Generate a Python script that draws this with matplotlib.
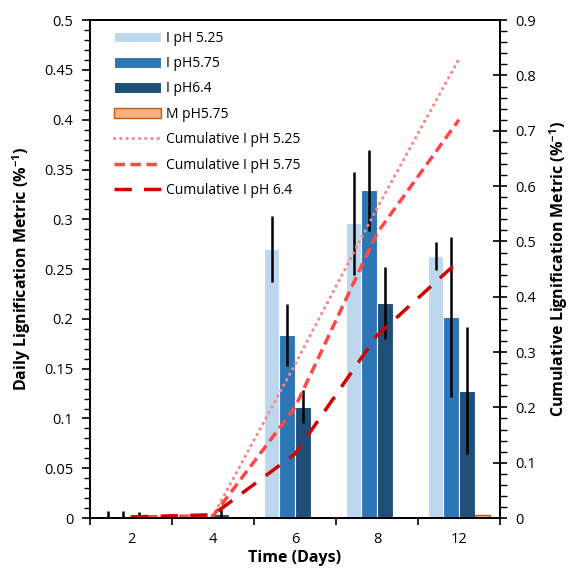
import matplotlib.pyplot as plt
from matplotlib.ticker import MultipleLocator, FixedLocator
import numpy as np

plt.rcParams['font.family'] = ['Open Sans', 'DejaVu Sans']
plt.rcParams['mathtext.fontset'] = 'custom'
plt.rcParams['mathtext.rm'] = 'Open Sans'
plt.rcParams['mathtext.bf'] = 'Open Sans:bold'

days = ['2', '4', '6', '8', '12']

# daily metric (left axis)
i_525 = [0.002, 0.001, 0.270, 0.296, 0.263]
i_525_err = [0.005, 0.0, 0.033, 0.052, 0.014]
i_575 = [0.002, 0.001, 0.184, 0.329, 0.202]
i_575_err = [0.005, 0.0, 0.031, 0.041, 0.080]
i_64 = [0.001, 0.004, 0.112, 0.216, 0.128]
i_64_err = [0.005, 0.005, 0.017, 0.036, 0.064]
m_575 = [0.0, 0.0, 0.0, 0.0, 0.003]

# cumulative metric (right axis)
cum_525 = [0.002, 0.004, 0.278, 0.560, 0.830]
cum_575 = [0.002, 0.004, 0.200, 0.515, 0.720]
cum_64 = [0.002, 0.006, 0.116, 0.330, 0.465]

x = np.arange(len(days))
w = 0.19

fig = plt.figure(figsize=(5.74, 5.75), dpi=100)
ax = fig.add_axes([0.157, 0.099, 0.714, 0.866])
ax2 = ax.twinx()

ekw = dict(ecolor='black', elinewidth=1.8, capsize=0)
b1 = ax.bar(x - 1.5*w, i_525, w, yerr=i_525_err, color='#bdd7ee', edgecolor='white', lw=0.8, error_kw=ekw, label='I pH 5.25')
b2 = ax.bar(x - 0.5*w, i_575, w, yerr=i_575_err, color='#2e75b6', edgecolor='white', lw=0.8, error_kw=ekw, label='I pH5.75')
b3 = ax.bar(x + 0.5*w, i_64, w, yerr=i_64_err, color='#1f4e79', edgecolor='white', lw=0.8, error_kw=ekw, label='I pH6.4')
b4 = ax.bar(x + 1.5*w, m_575, w, color='#f4b183', edgecolor='#c55a11', lw=1.0, label='M pH5.75')

l1, = ax2.plot(x, cum_525, color='#ff8585', lw=2.3, ls=(0, (0.05, 1.9)), dash_capstyle='round', label='Cumulative I pH 5.25')
l2, = ax2.plot(x, cum_575, color='#ff4747', lw=2.5, ls=(0, (3, 1.6)), label='Cumulative I pH 5.75')
l3, = ax2.plot(x, cum_64, color='#d40000', lw=2.5, ls=(0, (5, 3.5)), label='Cumulative I pH 6.4')

ax.set_xlim(-0.5, 4.5)
ax.set_ylim(0, 0.5)
ax2.set_ylim(0, 0.9)

ax.set_xticks(x)
ax.set_xticklabels(days)
ax.xaxis.set_minor_locator(FixedLocator(np.arange(-0.5, 5, 1)))
ax.tick_params(axis='x', which='major', length=0, pad=10, labelsize=10.5)
ax.tick_params(axis='x', which='minor', length=5, width=1.2, direction='out')

yt = np.arange(0, 0.51, 0.05).round(2)
ax.set_yticks(yt)
ax.set_yticklabels([f'{v:g}' for v in yt])
ax.yaxis.set_minor_locator(MultipleLocator(0.01))
ax.tick_params(axis='y', which='major', length=6, width=1.2, direction='out', labelsize=10.5, pad=6)
ax.tick_params(axis='y', which='minor', length=4, width=1.0, direction='out')

yt2 = np.arange(0, 0.91, 0.1).round(1)
ax2.set_yticks(yt2)
ax2.set_yticklabels([f'{v:g}' for v in yt2])
ax2.yaxis.set_minor_locator(MultipleLocator(0.02))
ax2.tick_params(axis='y', which='major', length=10, width=1.2, direction='inout', labelsize=10.5, pad=6)
ax2.tick_params(axis='y', which='minor', length=5, width=1.0, direction='out')

for a in (ax, ax2):
    for s in a.spines.values():
        s.set_linewidth(1.3)

ax.set_xlabel('Time (Days)', fontweight='bold', fontsize=11.5, labelpad=2)
ax.set_ylabel('Daily Lignification Metric (%$^{\\mathbf{-1}}$)', fontweight='bold', fontsize=11.5, labelpad=8)
ax2.set_ylabel('Cumulative Lignification Metric (%$^{\\mathbf{-1}}$)', fontweight='bold', fontsize=11.5, labelpad=8)

ax2.legend([b1, b2, b3, b4, l1, l2, l3],
           [h.get_label() for h in (b1, b2, b3, b4, l1, l2, l3)],
           loc='upper left', bbox_to_anchor=(0.044, 0.99), borderaxespad=0,
           frameon=False, fontsize=10, handlelength=3.4, handleheight=0.8,
           labelspacing=0.75, handletextpad=0.4)

fig.savefig('out.png', dpi=100)
